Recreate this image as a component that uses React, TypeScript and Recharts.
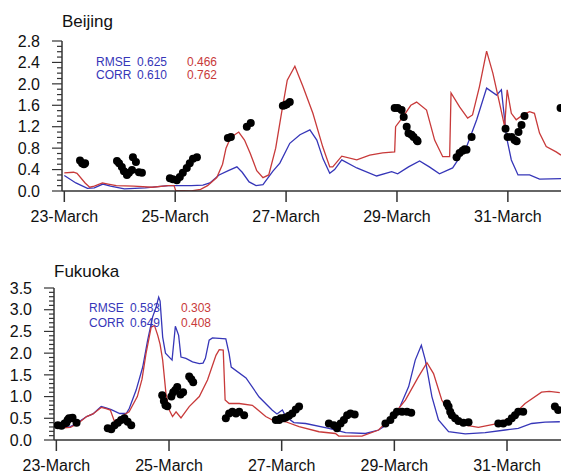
import React from 'react';
import { ComposedChart, Line, Scatter, XAxis, YAxis } from 'recharts';

// hours since 23-March 00:00
const xTicks = [0, 48, 96, 144, 192];
const xLabels = ['23-March', '25-March', '27-March', '29-March', '31-March'];
const bjYTicks = Array.from({ length: 29 }, (_, i) => i / 10);
const fkYTicks = Array.from({ length: 36 }, (_, i) => i / 10);

const bjObs: [number, number][] = [
  [6.8, 0.57], [7.7, 0.52], [8.5, 0.5], [9.0, 0.52],
  [22.8, 0.56], [23.7, 0.52], [24.9, 0.45], [25.8, 0.37], [27.1, 0.3], [28.0, 0.34], [29.3, 0.39],
  [29.7, 0.63], [31.0, 0.54], [32.3, 0.35], [33.6, 0.34],
  [45.7, 0.24], [47.0, 0.22], [48.7, 0.2], [50.0, 0.26], [51.3, 0.34], [53.0, 0.43], [54.3, 0.52],
  [55.7, 0.6], [57.4, 0.63],
  [70.8, 0.99], [72.1, 1.01], [79.0, 1.2], [80.7, 1.27],
  [94.6, 1.59], [95.4, 1.6], [96.3, 1.62], [97.6, 1.66],
  [143.0, 1.55], [144.3, 1.55], [146.0, 1.51], [146.9, 1.38], [148.2, 1.2], [149.0, 1.08],
  [150.3, 1.05], [151.2, 1.01], [152.5, 0.95], [152.9, 0.93],
  [169.8, 0.63], [171.1, 0.71], [172.4, 0.75], [173.3, 0.78], [174.1, 0.77], [176.3, 1.01],
  [191.0, 1.16], [191.9, 1.01], [193.6, 1.01], [194.9, 0.95], [195.8, 0.93], [196.6, 1.1],
  [197.9, 1.23], [199.2, 1.4],
  [214.8, 1.55],
];

const bjBlue: [number, number][] = [
  [0, 0.29], [5, 0.15], [10, 0.05], [13, 0.06], [16.7, 0.13], [20, 0.09], [26, 0.04], [35, 0.06],
  [45, 0.1], [55, 0.1], [60, 0.11], [63, 0.15], [67, 0.3], [71, 0.38], [74.7, 0.45], [77, 0.35],
  [80, 0.17], [83, 0.1], [86, 0.12], [90.3, 0.37], [93.3, 0.52], [97.6, 0.89], [102, 1.05],
  [106.3, 1.14], [109.3, 0.95], [112, 0.6], [114.9, 0.33], [117, 0.4], [120.1, 0.58], [126.6, 0.43],
  [135.2, 0.28], [141.7, 0.36], [144.3, 0.32], [149, 0.45], [153.8, 0.56], [158, 0.45],
  [162.4, 0.32], [168.1, 0.43], [174.1, 0.82], [178.5, 1.33], [182.8, 1.92], [187.1, 1.79],
  [189.2, 1.89], [191.4, 1.01], [193.5, 0.58], [196.4, 0.3], [201.4, 0.3], [205.7, 0.22],
  [215, 0.23],
];

const bjRed: [number, number][] = [
  [0, 0.34], [4, 0.35], [5.5, 0.33], [9, 0.15], [11, 0.07], [13, 0.09], [16.5, 0.15], [19, 0.13],
  [22.5, 0.1], [30, 0.09], [38, 0.07], [45, 0.1], [47.5, 0.1], [48.2, 0.01], [55, 0.0], [59, 0.03],
  [62, 0.1], [66, 0.25], [68.5, 0.5], [70, 0.8], [72, 1.0], [75.5, 1.1], [78, 0.95], [80.5, 0.7],
  [83.3, 0.38], [86, 0.25], [88.5, 0.3], [91.5, 0.8], [94, 1.45], [96.5, 2.07], [99.8, 2.33],
  [103.3, 1.95], [107.6, 1.45], [111.9, 0.82], [114.9, 0.45], [116.2, 0.45], [120.1, 0.65],
  [126.6, 0.58], [132.2, 0.67], [137.8, 0.71], [143, 0.73], [143.4, 1.2], [146.5, 1.38],
  [150, 1.6], [152.5, 1.66], [156.8, 1.51], [160.3, 0.95], [163.8, 0.64], [166.8, 0.64],
  [167.4, 1.83], [171.1, 1.57], [174.6, 1.36], [176.7, 1.42], [179.7, 1.95], [182.8, 2.61],
  [185.5, 2.2], [188.4, 1.64], [190.6, 1.2], [191.7, 1.89], [193.5, 1.45], [195.6, 1.33],
  [198.5, 1.42], [201.4, 1.48], [203.5, 1.45], [205.7, 1.08], [208.6, 0.83], [212.9, 0.73],
  [215, 0.67],
];

const fkObs: [number, number][] = [
  [0.6, 0.34], [2.2, 0.33], [3.5, 0.38], [4.3, 0.4], [4.8, 0.46], [5.4, 0.5], [6.5, 0.5],
  [6.9, 0.51], [8.6, 0.4],
  [21.9, 0.27], [23.4, 0.25], [24.8, 0.34], [26.2, 0.4], [27.6, 0.46], [29, 0.5], [30.4, 0.42],
  [31.9, 0.34],
  [45.1, 1.03], [45.8, 0.9], [46.5, 0.8], [47.3, 0.78], [49.0, 1.0], [49.8, 1.1], [50.7, 1.15],
  [51.5, 1.22], [52.9, 1.05], [54.0, 1.1], [56.6, 1.46], [57.5, 1.4], [58.3, 1.33],
  [72.2, 0.5], [73.6, 0.61], [75, 0.65], [76.5, 0.61], [77.9, 0.65], [80, 0.57],
  [93.5, 0.46], [94.9, 0.46], [95.6, 0.5], [96.8, 0.5], [97.7, 0.52], [99.1, 0.56], [100.5, 0.61],
  [102, 0.7], [103.4, 0.77],
  [116.1, 0.38], [118.2, 0.34], [119.6, 0.27], [121.1, 0.38], [122.5, 0.46], [123.9, 0.57],
  [125.3, 0.61], [127.1, 0.59],
  [140.2, 0.38], [142.3, 0.46], [143.7, 0.57], [145.1, 0.65], [147.3, 0.65], [149.4, 0.65],
  [151.2, 0.63],
  [166.4, 0.84], [167.1, 0.77], [167.8, 0.65], [168.5, 0.57], [169.9, 0.5], [171.3, 0.44],
  [173.4, 0.4], [175.6, 0.41],
  [188.3, 0.38], [190.4, 0.38], [192.6, 0.42], [194, 0.5], [195.4, 0.57], [196.8, 0.65],
  [198.9, 0.65],
  [212.4, 0.77], [213.8, 0.69],
];

const fkBlue: [number, number][] = [
  [-0.7, 0.31], [3, 0.3], [6, 0.31], [9.2, 0.4], [12.9, 0.54], [15.6, 0.6], [19.1, 0.77],
  [21.2, 0.74], [23.4, 0.7], [27, 0.61], [29.8, 0.61], [31.1, 0.73], [34, 1.15], [36.8, 1.68],
  [38.9, 2.3], [41, 2.83], [42.5, 3.06], [43.6, 3.29], [44.2, 3.2], [45.3, 2.37], [46.5, 2.0],
  [49.3, 1.84], [50.7, 2.62], [52.1, 2.41], [53.1, 1.91], [55.2, 1.88], [58, 1.8], [60.9, 1.76],
  [62.5, 1.77], [63.5, 1.88], [65.1, 2.3], [66.5, 2.35], [72.2, 2.33], [73.6, 1.99],
  [74.5, 1.68], [80.8, 1.43], [86.4, 0.99], [91.9, 0.69], [94, 0.6], [96.3, 0.69], [97.7, 0.54],
  [101.2, 0.4], [106.2, 0.38], [116.1, 0.27], [123.2, 0.17], [131.7, 0.15], [137.3, 0.23],
  [141.6, 0.38], [145.8, 0.69], [150.1, 1.23], [152.9, 1.84], [155.5, 2.18], [157.2, 1.84],
  [160, 1.0], [162.8, 0.46], [167.1, 0.19], [174.2, 0.14], [182.7, 0.17], [191.2, 0.23],
  [196.8, 0.27], [202.5, 0.38], [208.2, 0.41], [214.5, 0.42],
];

const fkRed: [number, number][] = [
  [-0.7, 0.3], [3, 0.28], [6, 0.29], [9.2, 0.38], [12.9, 0.54], [15.6, 0.6], [19.1, 0.75],
  [21.2, 0.72], [23, 0.69], [24.8, 0.42], [26.9, 0.5], [29.4, 0.6], [31, 0.65], [34.5, 1.0],
  [36.5, 1.4], [38.2, 1.99], [40.4, 2.6], [41.8, 2.64], [43.2, 2.41], [44.2, 2.2], [45.3, 1.84],
  [46.7, 1.07], [48.1, 0.69], [49.5, 0.54], [51, 0.65], [53.1, 0.51], [56.6, 0.77], [60.9, 1.0],
  [64.4, 1.38], [68, 1.95], [69.4, 2.08], [71.1, 2.07], [71.9, 0.92], [73.6, 0.84], [77.9, 0.84],
  [83.5, 0.8], [89.2, 0.54], [93.5, 0.42], [94.9, 0.46], [97.7, 0.42], [103.4, 0.31],
  [111.9, 0.19], [118.9, 0.15], [120.3, 0.09], [130.2, 0.09], [137.3, 0.23], [143, 0.54],
  [148.7, 0.92], [154.3, 1.46], [157.9, 1.78], [160.7, 1.53], [164.2, 0.92], [168.5, 0.54],
  [174.2, 0.34], [179.8, 0.29], [188.3, 0.38], [194, 0.54], [199.7, 0.84], [206.7, 1.1],
  [210, 1.12], [214.5, 1.09],
];

const BLUE = '#3636b8';
const RED = '#c83a3a';
const AXIS = '#333';
const FONT = '"Liberation Sans", Arial, Helvetica, sans-serif';

const pts = (a: [number, number][]) => a.map(([h, v]) => ({ h, v }));

const isMajor = (v: number, step: number) => Math.abs(v / step - Math.round(v / step)) < 1e-6;

const leftTick = (step: number) => (props: any) => {
  const { x, y, payload } = props;
  const v = payload.value as number;
  const major = isMajor(v, step);
  return (
    <g>
      <line x1={x} x2={x - (major ? 10 : 5)} y1={y} y2={y} stroke={AXIS} strokeWidth={1.2} />
      {major && (
        <text x={x - 22} y={y} dy="0.36em" textAnchor="end" fontSize={16} fill="#111" fontFamily={FONT}>
          {v.toFixed(1)}
        </text>
      )}
    </g>
  );
};

const rightTick = (step: number) => (props: any) => {
  const { x, y, payload } = props;
  const major = isMajor(payload.value, step);
  return <line x1={x} x2={x + (major ? 10 : 5)} y1={y} y2={y} stroke={AXIS} strokeWidth={1.2} />;
};

const dot = (p: any) => <circle cx={p.cx} cy={p.cy} r={4} fill="#000" />;

function Panel({ obs, blue, red, yMax, yTicks, step, height, top, left, bottom }: any) {
  const line = { stroke: AXIS, strokeWidth: 1.5 };
  return (
    <ComposedChart width={573} height={height} margin={{ top, right: 12, left: 0, bottom: 0 }}>
      <XAxis
        type="number"
        dataKey="h"
        domain={[-1, 215]}
        ticks={xTicks}
        interval={0}
        allowDataOverflow
        height={bottom}
        tickSize={11}
        tickMargin={9}
        axisLine={line}
        tickLine={line}
        tickFormatter={(v: number) => xLabels[xTicks.indexOf(v)]}
        tick={{ fontSize: 16, fill: '#111', fontFamily: FONT }}
      />
      <XAxis
        xAxisId="top"
        orientation="top"
        type="number"
        dataKey="h"
        domain={[-1, 215]}
        ticks={xTicks}
        interval={0}
        allowDataOverflow
        height={0}
        tickSize={11}
        axisLine={line}
        tickLine={line}
        tick={false}
      />
      <YAxis
        type="number"
        dataKey="v"
        domain={[0, yMax]}
        ticks={yTicks}
        interval={0}
        allowDataOverflow
        width={left}
        tickSize={0}
        tickMargin={0}
        tickLine={false}
        axisLine={line}
        tick={leftTick(step)}
      />
      <YAxis
        yAxisId="r"
        orientation="right"
        type="number"
        domain={[0, yMax]}
        ticks={yTicks}
        interval={0}
        width={0}
        tickSize={0}
        tickMargin={0}
        tickLine={false}
        axisLine={line}
        tick={rightTick(step)}
      />
      <Scatter data={pts(obs)} dataKey="v" shape={dot} isAnimationActive={false} />
      <Line data={pts(blue)} dataKey="v" type="linear" stroke={BLUE} strokeWidth={1.3} dot={false} isAnimationActive={false} />
      <Line data={pts(red)} dataKey="v" type="linear" stroke={RED} strokeWidth={1.3} dot={false} isAnimationActive={false} />
    </ComposedChart>
  );
}

export default function App() {
  return (
    <div style={{ position: 'absolute', left: 0, top: 0, width: 573, height: 473, background: '#fff', overflow: 'hidden' }}>
      <div style={{ position: 'absolute', left: 0, top: 0 }}>
        <Panel obs={bjObs} blue={bjBlue} red={bjRed} yMax={2.8} yTicks={bjYTicks} step={0.4} height={240} top={41} left={62} bottom={49} />
      </div>
      <div style={{ position: 'absolute', left: 0, top: 240 }}>
        <Panel obs={fkObs} blue={fkBlue} red={fkRed} yMax={3.5} yTicks={fkYTicks} step={0.5} height={233} top={48} left={54} bottom={33} />
      </div>
      <svg width={573} height={473} style={{ position: 'absolute', left: 0, top: 0, pointerEvents: 'none' }} fontFamily={FONT}>
        <text x={62} y={27} fontSize={17} fill="#111">Beijing</text>
        <text x={96} y={65.5} fontSize={12} fill={BLUE}>RMSE</text>
        <text x={137} y={65.5} fontSize={12} fill={BLUE}>0.625</text>
        <text x={187} y={65.5} fontSize={12} fill={RED}>0.466</text>
        <text x={96} y={78.5} fontSize={12} fill={BLUE}>CORR</text>
        <text x={137} y={78.5} fontSize={12} fill={BLUE}>0.610</text>
        <text x={187} y={78.5} fontSize={12} fill={RED}>0.762</text>
        <text x={54} y={277} fontSize={17} fill="#111">Fukuoka</text>
        <text x={89} y={311.5} fontSize={12} fill={BLUE}>RMSE</text>
        <text x={130} y={311.5} fontSize={12} fill={BLUE}>0.583</text>
        <text x={181} y={311.5} fontSize={12} fill={RED}>0.303</text>
        <text x={89} y={326.5} fontSize={12} fill={BLUE}>CORR</text>
        <text x={130} y={326.5} fontSize={12} fill={BLUE}>0.649</text>
        <text x={181} y={326.5} fontSize={12} fill={RED}>0.408</text>
      </svg>
    </div>
  );
}
